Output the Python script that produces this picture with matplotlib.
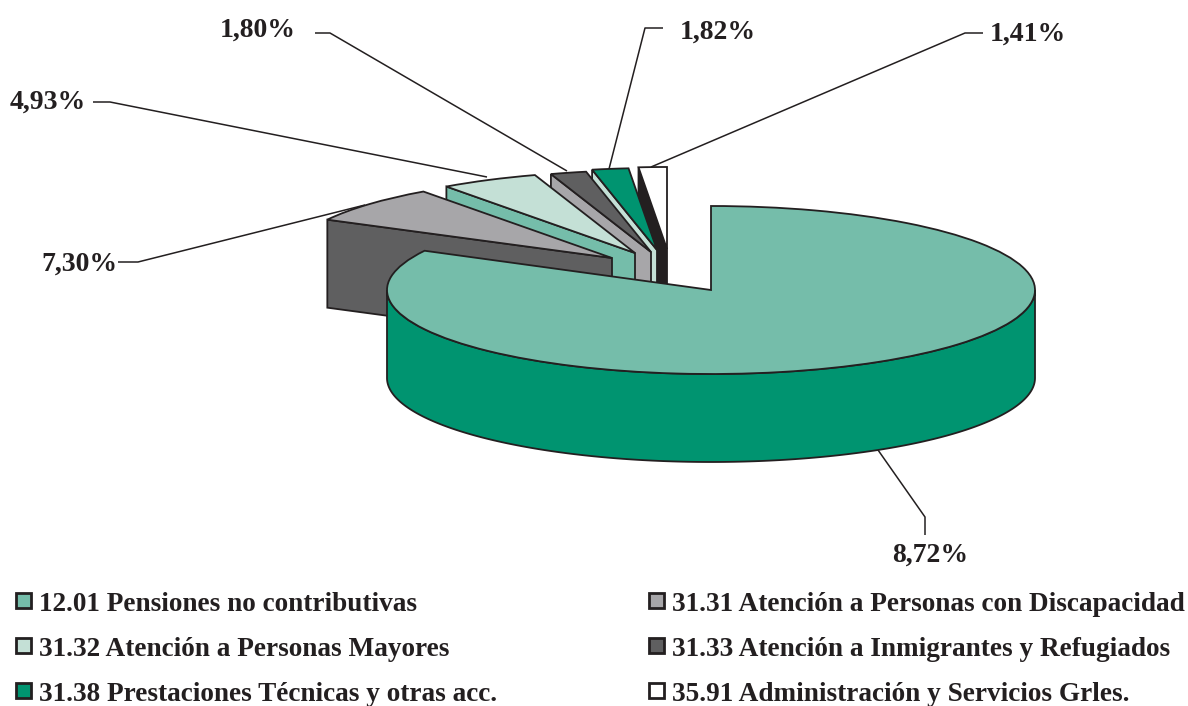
import numpy as np
import matplotlib
matplotlib.use('Agg')
import matplotlib.pyplot as plt
from matplotlib.patches import Wedge, Polygon, Rectangle
from matplotlib.transforms import Affine2D

# data
shares = [82.74, 7.30, 4.93, 1.80, 1.82, 1.41]
value_labels = ['8,72%', '7,30%', '4,93%', '1,80%', '1,82%', '1,41%']
legend_labels = ['12.01 Pensiones no contributivas', '31.31 Atención a Personas con Discapacidad',
                 '31.32 Atención a Personas Mayores', '31.33 Atención a Inmigrantes y Refugiados',
                 '31.38 Prestaciones Técnicas y otras acc.', '35.91 Administración y Servicios Grles.']

TEAL, GREEN, LIGHT, GRAY, DARK = '#75bdaa', '#009470', '#c4e0d6', '#a7a6a9', '#5f5f60'
INK = '#231f20'

# style / layout, all in pixels
top_colors = [TEAL, GRAY, LIGHT, DARK, GREEN, 'white']
cut_colors = [GREEN, DARK, TEAL, GRAY, LIGHT, INK]
apex_x = [711, 612, 635, 651, 657, 667]
apex_y = [290, 258, 253, 252, 250, 249]
RX, RY, DEPTH = 324, 84, 88
RX_SMALL, RY_SMALL = 322, 82

label_pos = [(930, 555), (79, 264), (48, 102), (258, 30), (718, 32), (1028, 34)]
leaders = [[(925, 535), (925, 517), (878, 450)],
           [(118, 262), (138, 262), (365, 205)],
           [(93, 102), (110, 102), (487, 177)],
           [(315, 33), (330, 33), (567, 171)],
           [(663, 28), (645, 28), (609, 169)],
           [(983, 33), (965, 33), (651, 167)]]
legend_swatch = [TEAL, GRAY, LIGHT, DARK, GREEN, 'white']
legend_x = [16, 649]
legend_text_x = [39, 672]
legend_y = [593, 638, 683]
legend_base = [611, 656, 701]

fig = plt.figure(figsize=(11.88, 7.06), dpi=100)
ax = fig.add_axes([0, 0, 1, 1])
ax.set_xlim(0, 1188)
ax.set_ylim(706, 0)
ax.axis('off')

angles = 90 - np.cumsum([0] + shares) * 3.6
lw = 1.3
serif = dict(family='Liberation Serif', weight='bold', color=INK)


def point(cx, cy, theta, rx=RX, ry=RY):
    t = np.radians(theta)
    return cx + rx * np.cos(t), cy - ry * np.sin(t)


# small slices back to front, main slice last so it covers them
for i in [5, 4, 3, 2, 1]:
    cx, cy = apex_x[i], apex_y[i]
    left = point(cx, cy, angles[i], RX_SMALL, RY_SMALL)
    cut = [(cx, cy), left, (left[0], left[1] + DEPTH), (cx, cy + DEPTH)]
    ax.add_patch(Polygon(cut, closed=True, fc=cut_colors[i], ec=INK, lw=lw, joinstyle='miter'))
    tr = Affine2D().scale(RX_SMALL, -RY_SMALL).translate(cx, cy) + ax.transData
    ax.add_patch(Wedge((0, 0), 1, angles[i + 1], angles[i], fc=top_colors[i], ec=INK, lw=lw, transform=tr))

# main slice: outer wall then top
cx, cy = apex_x[0], apex_y[0]
t = np.linspace(180, 360, 200)
xs, ys = point(cx, cy, t)
wall = np.r_[np.c_[xs, ys], np.c_[xs, ys + DEPTH][::-1]]
ax.add_patch(Polygon(wall, closed=True, fc=cut_colors[0], ec=INK, lw=lw))
tr = Affine2D().scale(RX, -RY).translate(cx, cy) + ax.transData
ax.add_patch(Wedge((0, 0), 1, angles[1], angles[0], fc=top_colors[0], ec=INK, lw=lw, transform=tr))

# leaders and value labels
for pts, txt, pos in zip(leaders, value_labels, label_pos):
    p = np.array(pts)
    ax.plot(p[:, 0], p[:, 1], color=INK, lw=1.1, solid_capstyle='butt')
    ax.text(pos[0], pos[1], txt, fontsize=20, ha='center', va='center', **serif)

# legend
for i, txt in enumerate(legend_labels):
    col, row = i % 2, i // 2
    ax.add_patch(Rectangle((legend_x[col], legend_y[row]), 15, 15, fc=legend_swatch[i], ec=INK, lw=2))
    ax.text(legend_text_x[col], legend_base[row], txt, fontsize=19.6, va='baseline', **serif)

fig.savefig('out.png', dpi=100)
